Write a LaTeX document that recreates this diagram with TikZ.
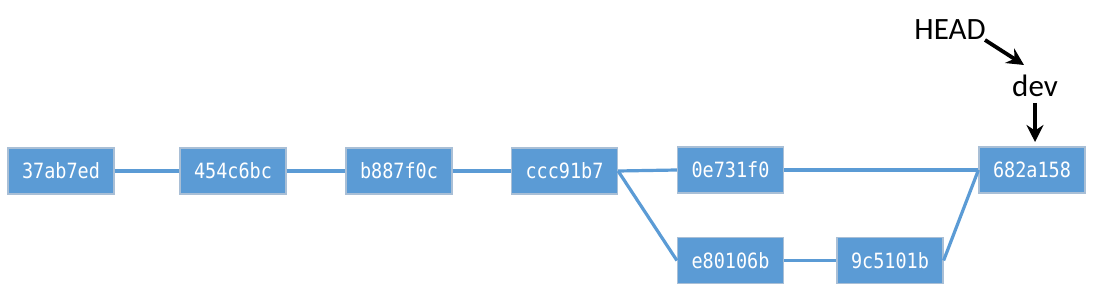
\documentclass[tikz,border=0pt]{standalone}
\usepackage{fontspec}
\setmainfont{Carlito}
\newfontfamily\boxfont{DejaVu Sans Mono}[FakeStretch=0.88]
\usetikzlibrary{arrows.meta}
\definecolor{cblue}{HTML}{5B9BD5}
\definecolor{cedge}{HTML}{A9BFD6}
\tikzset{
  commit/.style={draw=cedge, line width=1.2pt, fill=cblue, minimum width=106pt, minimum height=46pt,
    inner sep=0pt, text=white, font=\boxfont\fontsize{21}{24}\selectfont},
  link/.style={draw=cblue, line width=3.2pt},
  ptr/.style={draw=black, line width=3.8pt, -{Stealth[length=17pt,width=17pt]}},
  lbl/.style={font=\fontsize{31}{34}\selectfont, inner sep=0pt}
}
\begin{document}
\begin{tikzpicture}[x=1pt,y=-1pt]
\useasboundingbox (0,0) rectangle (1094,291);
\node[commit] (c1) at (61,171) {37ab7ed};
\node[commit] (c2) at (233,171) {454c6bc};
\node[commit] (c3) at (399,171) {b887f0c};
\node[commit] (c4) at (564.5,171) {ccc91b7};
\node[commit] (c5) at (730.5,170) {0e731f0};
\node[commit] (c6) at (730.5,260.5) {e80106b};
\node[commit] (c7) at (890,260.5) {9c5101b};
\node[commit] (c8) at (1032,170) {682a158};
\node[lbl] (head) at (950,30) {HEAD};
\node[lbl] (dev) at (1035,86) {dev};
\coordinate (hs) at (985,40);
\coordinate (he) at (1024,65);
\coordinate (ds) at (1035,103);
\coordinate (de) at (1035,142);
\draw[link] (c1.east) -- (c2.west);
\draw[link] (c2.east) -- (c3.west);
\draw[link] (c3.east) -- (c4.west);
\draw[link] (c4.east) -- (c5.west);
\draw[link] (c4.east) -- (c6.west);
\draw[link] (c5.east) -- (c8.west);
\draw[link] (c6.east) -- (c7.west);
\draw[link] (c7.east) -- (c8.west);
\draw[ptr] (hs) -- (he);
\draw[ptr] (ds) -- (de);
\end{tikzpicture}
\end{document}
